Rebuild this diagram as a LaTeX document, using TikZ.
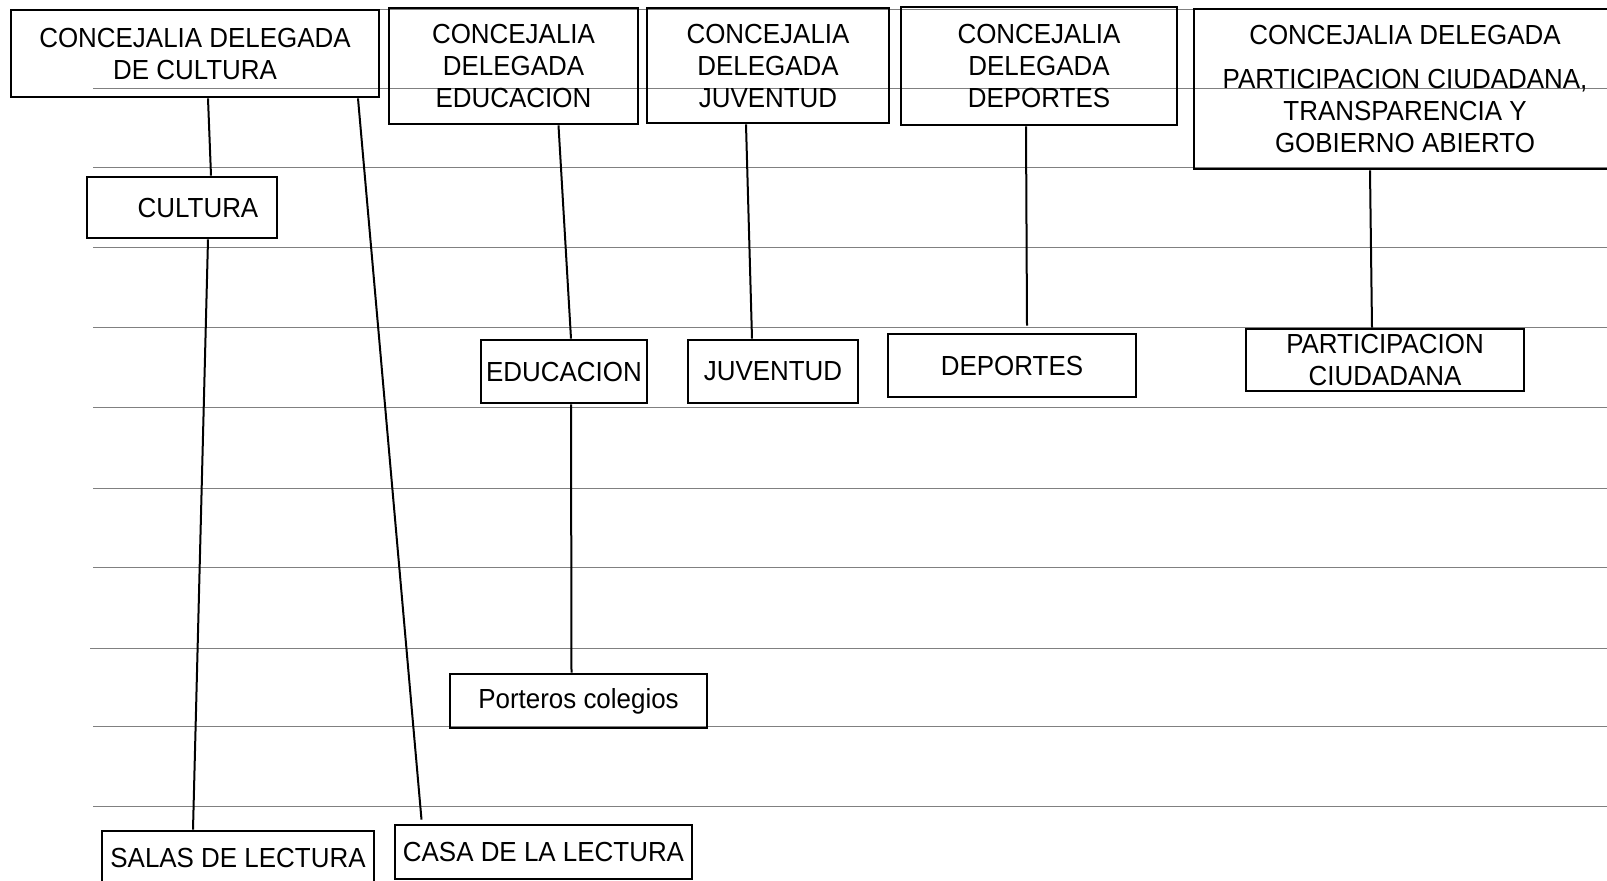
\documentclass[tikz,border=0pt]{standalone}
\usepackage{fontspec}
\setmainfont{Liberation Sans}[FakeStretch=0.94]
\usepackage{tikz}
\usetikzlibrary{calc}

\begin{document}
\begin{tikzpicture}[x=1pt,y=-1pt,
    unitbox/.style={draw,line width=2.8pt,rectangle,inner sep=0pt,align=center,
      font=\fontsize{27.6}{32}\selectfont},
    link/.style={line width=2pt},
    ruleline/.style={black!50,line width=1pt}]
      \useasboundingbox (0,0) rectangle (1607,881);
      % ruled background lines
      \foreach \xs/\y in {85/9,93/88,93/167,93/247,93/327,93/407,93/488,93/567,90/648,93/726,93/806}
        \draw[ruleline] (\xs,\y) -- (1607,\y);
      % top row
      \node[unitbox,minimum width=368pt,minimum height=87pt] (cdel) at (195,53.5) {CONCEJALIA DELEGADA\\DE CULTURA};
      \node[unitbox,minimum width=249pt,minimum height=116pt] (edudel) at (513.5,66) {CONCEJALIA\\DELEGADA\\EDUCACION};
      \node[unitbox,minimum width=242pt,minimum height=115pt] (juvdel) at (768,65.5) {CONCEJALIA\\DELEGADA\\JUVENTUD};
      \node[unitbox,minimum width=276pt,minimum height=118pt] (depdel) at (1039,66) {CONCEJALIA\\DELEGADA\\DEPORTES};
      \node[unitbox,minimum width=422pt,minimum height=160pt] (partdel) at (1405,89) {CONCEJALIA DELEGADA\\[12pt]PARTICIPACION CIUDADANA,\\TRANSPARENCIA Y\\GOBIERNO ABIERTO};
      % areas
      \node[unitbox,minimum width=190pt,minimum height=61pt] (cultura) at (182,207.5) {\hspace*{32pt}CULTURA};
      \node[unitbox,minimum width=166pt,minimum height=63pt] (edu) at (564,371.5) {EDUCACION};
      \node[unitbox,minimum width=170pt,minimum height=63pt] (juv) at (773,371.5) {JUVENTUD};
      \node[unitbox,minimum width=248pt,minimum height=63pt] (dep) at (1012,365.5) {DEPORTES};
      \node[unitbox,minimum width=278pt,minimum height=62pt] (part) at (1385,360) {PARTICIPACION\\CIUDADANA};
      \node[unitbox,minimum width=257pt,minimum height=54pt] (porteros) at (578.5,701) {Porteros colegios};
      \node[unitbox,minimum width=272pt,minimum height=54pt] (salas) at (238,858) {SALAS DE LECTURA};
      \node[unitbox,minimum width=297pt,minimum height=54pt] (casa) at (543.5,852) {CASA DE LA LECTURA};
      % connectors
      \draw[link] ([xshift=13pt]cdel.south) -- ([xshift=29pt]cultura.north);
      \draw[link] ([xshift=26pt]cultura.south) -- ([xshift=-45pt]salas.north);
      \draw[link] ([xshift=163pt]cdel.south) -- ([xshift=-122pt,yshift=4pt]casa.north);
      \draw[link] ([xshift=45pt]edudel.south) -- ([xshift=7pt]edu.north);
      \draw[link] ([xshift=7pt]edu.south) -- ([xshift=-7pt]porteros.north);
      \draw[link] ([xshift=-22pt]juvdel.south) -- ([xshift=-21pt]juv.north);
      \draw[link] ([xshift=-13pt]depdel.south) -- ([xshift=15pt,yshift=7pt]dep.north);
      \draw[link] ([xshift=-35pt]partdel.south) -- ([xshift=-13pt]part.north);
\end{tikzpicture}
\end{document}
